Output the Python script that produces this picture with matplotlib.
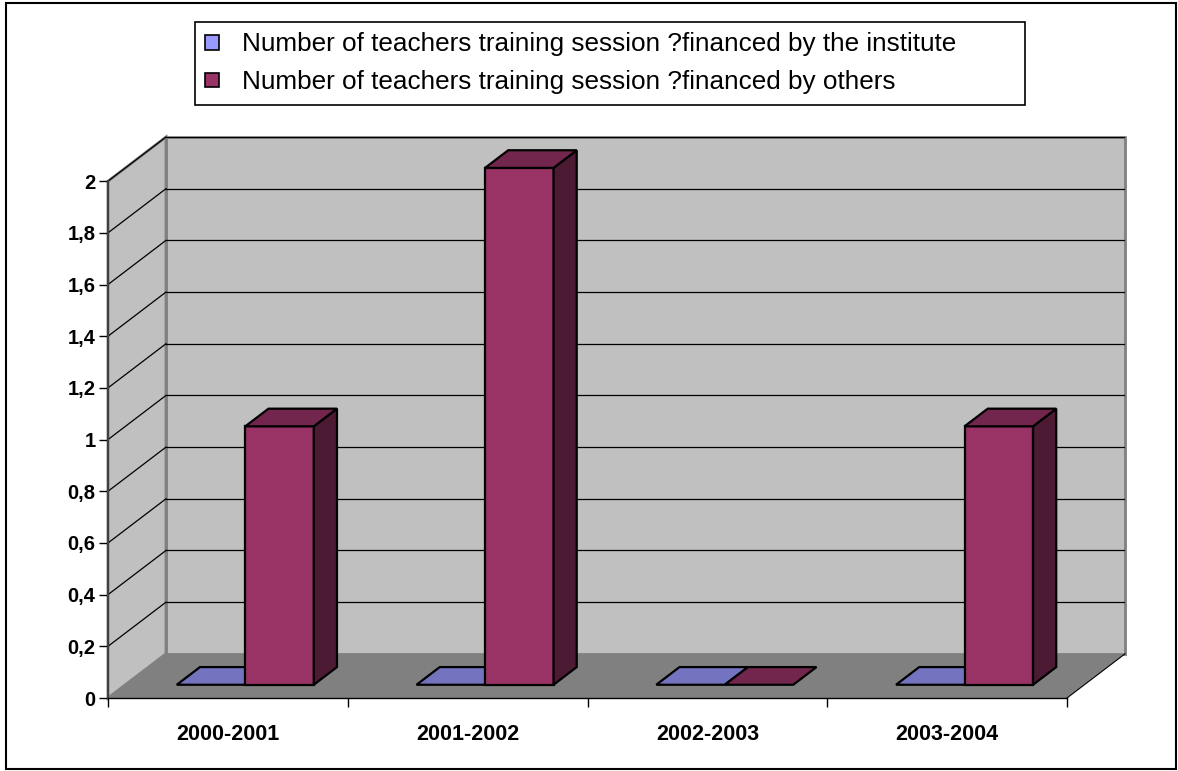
import matplotlib
matplotlib.use("Agg")
import matplotlib.pyplot as plt
import numpy as np
from matplotlib.patches import Polygon, Patch, Rectangle

plt.rcParams['font.family'] = ['Liberation Sans', 'DejaVu Sans']

years = ['2000-2001', '2001-2002', '2002-2003', '2003-2004']
series_names = ['Number of teachers training session ?financed by the institute',
                'Number of teachers training session ?financed by others']
by_institute = [0, 0, 0, 0]
by_others = [1, 2, 0, 1]
yticks = [0, 0.2, 0.4, 0.6, 0.8, 1, 1.2, 1.4, 1.6, 1.8, 2]

# face colours: front, top, side
colours = [('#9999FF', '#7373BF', '#4D4D80'),
           ('#993366', '#73264D', '#4D1A33')]

W, H = 1178, 771
DX, DY = 58 / 239.75, 44 / 257.5      # depth offset in data units
ymax = 2.0
ncat = len(years)

fig = plt.figure(figsize=(W / 100, H / 100), dpi=100)
ax = fig.add_axes([108 / W, (H - 698) / H, (1125 - 108) / W, (698 - 137) / H])
ax.set_xlim(0, ncat + DX)
ax.set_ylim(0, ymax + DY)
ax.set_facecolor('none')


def proj(x, v, d):
    return (x + d * DX, v + d * DY)


def poly(pts, fc, ec, lw, z):
    ax.add_patch(Polygon(pts, closed=True, facecolor=fc, edgecolor=ec,
                         linewidth=lw, zorder=z, clip_on=False, joinstyle='miter'))


# floor and walls
poly([proj(0, 0, 0), proj(ncat, 0, 0), proj(ncat, 0, 1), proj(0, 0, 1)],
     '#808080', 'none', 0, 1)
ax.plot([ncat, ncat + DX], [0, DY], color='black', lw=0.8, zorder=1.5, clip_on=False)
poly([proj(0, 0, 1), proj(ncat, 0, 1), proj(ncat, ymax, 1), proj(0, ymax, 1)],
     '#C0C0C0', '#808080', 2, 1)
poly([proj(0, 0, 0), proj(0, 0, 1), proj(0, ymax, 1), proj(0, ymax, 0)],
     '#C0C0C0', '#808080', 2, 1)

# gridlines on back and side walls
for v in yticks[1:]:
    ax.plot(*zip(proj(0, v, 1), proj(ncat, v, 1)), color='black', lw=0.9, zorder=2)
    ax.plot(*zip(proj(0, v, 0), proj(0, v, 1)), color='black', lw=0.9, zorder=2,
            clip_on=False)

# 3d bars
bw = 1 / 3.5
gap = 0.75 * bw
d0, d1 = 0.3, 0.7
for i in range(ncat):
    for s, vals in enumerate([by_institute, by_others]):
        v = vals[i]
        x0 = i + gap + s * bw
        x1 = x0 + bw
        front, top, side = colours[s]
        z = 3 + i * 0.1 + s * 0.01
        if v > 0:
            poly([proj(x0, 0, d0), proj(x1, 0, d0), proj(x1, v, d0), proj(x0, v, d0)],
                 front, 'black', 1.6, z)
            poly([proj(x1, 0, d0), proj(x1, 0, d1), proj(x1, v, d1), proj(x1, v, d0)],
                 side, 'black', 1.6, z)
        poly([proj(x0, v, d0), proj(x1, v, d0), proj(x1, v, d1), proj(x0, v, d1)],
             top, 'black', 1.6, z)

# axes lines and ticks
for sp in ['top', 'right']:
    ax.spines[sp].set_visible(False)
ax.spines['left'].set_bounds(0, ymax)
ax.spines['left'].set_color('#404040')
ax.spines['left'].set_linewidth(1.5)
ax.spines['left'].set_zorder(2.5)
ax.spines['bottom'].set_bounds(0, ncat)
ax.spines['bottom'].set_linewidth(1)
ax.spines['bottom'].set_zorder(2.5)

ax.set_yticks(yticks)
ax.set_yticklabels([('%g' % t).replace('.', ',') for t in yticks],
                   fontsize=14.5, fontweight='bold')
ax.tick_params(axis='y', length=6.5, width=1, pad=2.5, color='black')

ax.set_xticks(np.arange(ncat) + 0.5)
ax.set_xticklabels(years, fontsize=15.5, fontweight='bold')
ax.set_xticks(np.arange(ncat + 1), minor=True)
ax.tick_params(axis='x', which='major', length=0, pad=19)
ax.tick_params(axis='x', which='minor', length=6.5, width=1, color='black')

# legend
handles = [Patch(facecolor=colours[0][0], edgecolor='black', linewidth=1.2),
           Patch(facecolor=colours[1][0], edgecolor='black', linewidth=1.2)]
leg = fig.legend(handles, series_names, loc='upper left',
                 bbox_to_anchor=(195 / W, 1 - 22 / H, 830 / W, 0), mode='expand',
                 fontsize=18.8, frameon=True, fancybox=False, edgecolor='black',
                 framealpha=1, borderaxespad=0, borderpad=0.4,
                 handlelength=0.5, handleheight=0.5, handletextpad=0.9,
                 labelspacing=0.53)
leg.get_frame().set_linewidth(1.2)

# outer border
fig.add_artist(Rectangle((6 / W, 2 / H), 1170 / W, 766 / H, transform=fig.transFigure,
                         facecolor='none', edgecolor='black', linewidth=1.5))

fig.savefig('out.png', dpi=100)
